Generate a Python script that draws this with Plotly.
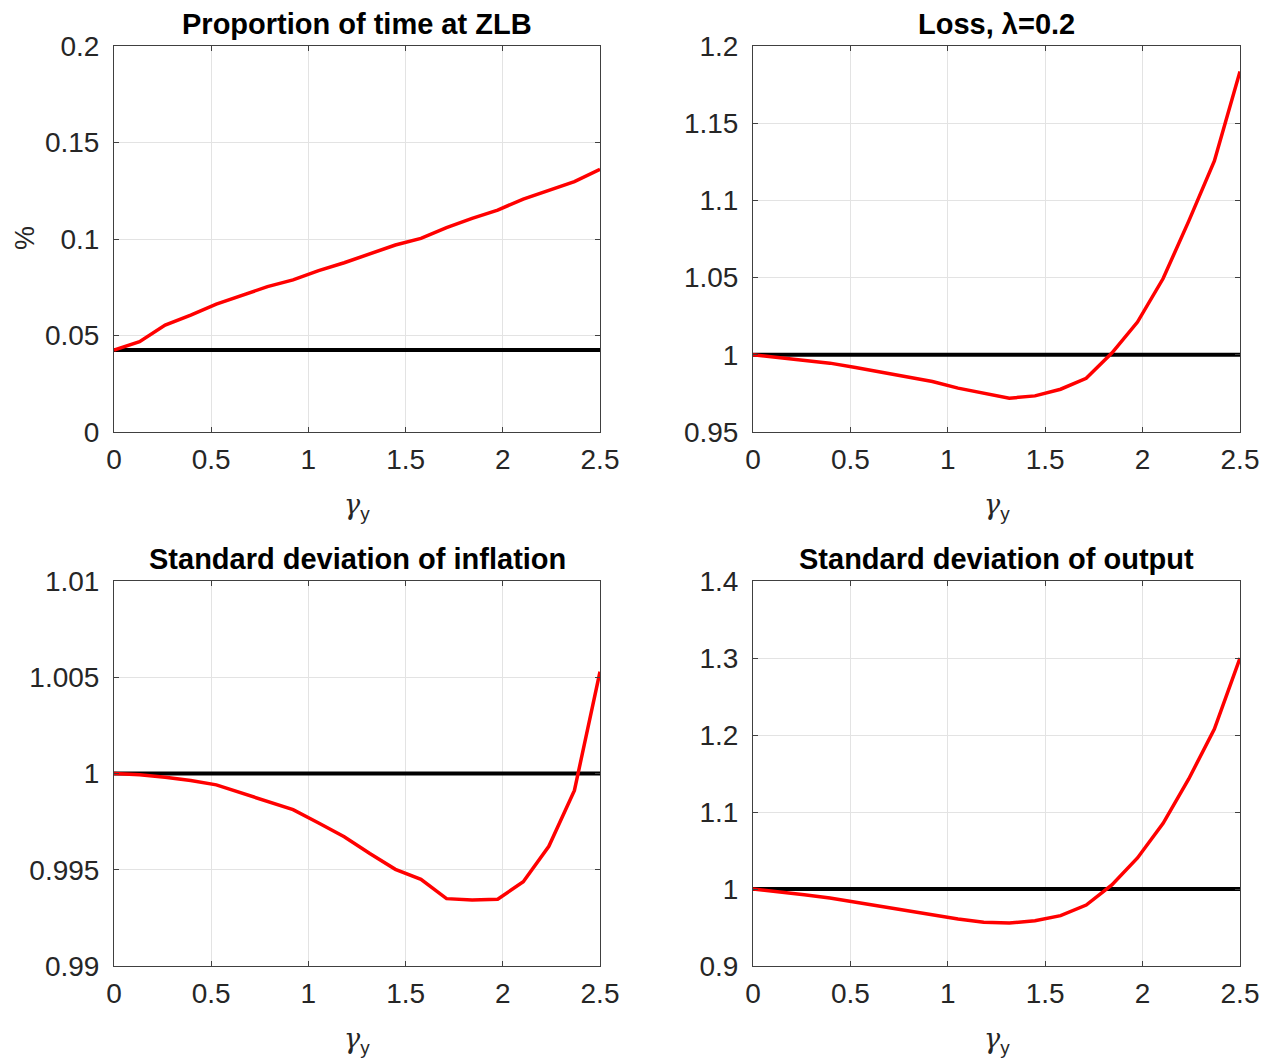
import plotly.graph_objects as go

W, H = 1264, 1063

# ---- data ----
gamma_y = [i * 2.5 / 19 for i in range(20)]

zlb_share = [0.0425, 0.0468, 0.0554, 0.0606, 0.0663, 0.0706, 0.0753, 0.0788, 0.0836, 0.0877,
             0.0922, 0.0969, 0.1003, 0.1059, 0.1107, 0.1150, 0.1207, 0.1250, 0.1297, 0.1361]
zlb_base = 0.0425

loss = [1.0, 0.9983, 0.9963, 0.9946, 0.9918, 0.9887, 0.9859, 0.9827, 0.9784, 0.9751,
        0.9719, 0.9734, 0.9777, 0.9848, 1.0011, 1.0212, 1.0494, 1.0866, 1.1255, 1.1835]
loss_base = 1.0

sd_infl = [1.0, 0.99993, 0.99981, 0.99964, 0.99941, 0.99898, 0.99852, 0.99812, 0.99743, 0.99671,
           0.99584, 0.99502, 0.9945, 0.9935, 0.99343, 0.99347, 0.99438, 0.99622, 0.99912, 1.00529]
infl_base = 1.0

sd_out = [1.0, 0.9965, 0.9926, 0.9883, 0.9827, 0.9775, 0.9719, 0.9662, 0.9610, 0.9567,
          0.9558, 0.9589, 0.9654, 0.9792, 1.0052, 1.0403, 1.0853, 1.1429, 1.2078, 1.3]
out_base = 1.0

titles = ["Proportion of time at ZLB", "Loss, <b>λ</b>=0.2",
          "Standard deviation of inflation", "Standard deviation of output"]

x_ticks = [0, 0.5, 1, 1.5, 2, 2.5]
x_ticklabels = ["0", "0.5", "1", "1.5", "2", "2.5"]

y_ticks = [
    [0, 0.05, 0.1, 0.15, 0.2],
    [0.95, 1, 1.05, 1.1, 1.15, 1.2],
    [0.99, 0.995, 1, 1.005, 1.01],
    [0.9, 1.0, 1.1, 1.2, 1.3, 1.4],
]
y_ticklabels = [
    ["0", "0.05", "0.1", "0.15", "0.2"],
    ["0.95", "1", "1.05", "1.1", "1.15", "1.2"],
    ["0.99", "0.995", "1", "1.005", "1.01"],
    ["0.9", "1", "1.1", "1.2", "1.3", "1.4"],
]
y_ranges = [[0, 0.2], [0.95, 1.2], [0.99, 1.01], [0.9, 1.4]]

series = [zlb_share, loss, sd_infl, sd_out]
bases = [zlb_base, loss_base, infl_base, out_base]

# ---- layout geometry (pixels) ----
panels_px = [  # x0, x1, ytop, ybottom
    (114, 600, 46, 432),
    (753, 1240, 46, 432),
    (114, 600, 581, 966),
    (753, 1240, 581, 966),
]

FONT = "Liberation Sans, Arial, Helvetica, sans-serif"
TXT = "#262626"
AX = "#404040"
GRID = "#e3e3e3"

fig = go.Figure()
annotations = []
layout = {}

for k in range(4):
    x0, x1, yt, yb = panels_px[k]
    xa = "xaxis" if k == 0 else f"xaxis{k+1}"
    ya = "yaxis" if k == 0 else f"yaxis{k+1}"
    xref = "x" if k == 0 else f"x{k+1}"
    yref = "y" if k == 0 else f"y{k+1}"

    fig.add_trace(go.Scatter(x=[gamma_y[0], gamma_y[-1]], y=[bases[k], bases[k]],
                             mode="lines", line=dict(color="black", width=4),
                             xaxis=xref, yaxis=yref, showlegend=False, hoverinfo="skip"))
    fig.add_trace(go.Scatter(x=gamma_y, y=series[k], mode="lines",
                             line=dict(color="#ff0000", width=3.5),
                             xaxis=xref, yaxis=yref, showlegend=False))

    common = dict(showline=True, linecolor=AX, linewidth=1, mirror="ticks",
                  ticks="inside", ticklen=5, tickcolor=AX, tickwidth=1,
                  showgrid=True, gridcolor=GRID, gridwidth=1, zeroline=False,
                  automargin=False,
                  tickfont=dict(family=FONT, size=28, color=TXT))
    layout[xa] = dict(domain=[x0 / W, x1 / W], range=[0, 2.5], anchor=yref,
                      tickvals=x_ticks, ticktext=x_ticklabels,
                      ticklabelstandoff=2, **common)
    layout[ya] = dict(domain=[(H - yb) / H, (H - yt) / H], range=y_ranges[k], anchor=xref,
                      tickvals=y_ticks[k], ticktext=y_ticklabels[k],
                      ticklabelstandoff=8, **common)

    cx = (x0 + x1) / 2
    annotations.append(dict(text=f"<b>{titles[k]}</b>", x=cx / W, y=(H - yt + 4) / H,
                            xref="paper", yref="paper", xanchor="center", yanchor="bottom",
                            showarrow=False,
                            font=dict(family=FONT, size=29, color="black")))
    annotations.append(dict(text='<span style="font-family:DejaVu Serif"><i>γ</i></span><sub>y</sub>',
                            x=cx / W, y=(H - (yb + 74)) / H,
                            xref="paper", yref="paper", xanchor="center", yanchor="middle",
                            showarrow=False,
                            font=dict(family=FONT, size=27, color=TXT)))

annotations.append(dict(text="%", x=25 / W, y=(H - 238) / H, xref="paper", yref="paper",
                        xanchor="center", yanchor="middle", textangle=-90, showarrow=False,
                        font=dict(family=FONT, size=27, color=TXT)))

fig.update_layout(width=W, height=H, margin=dict(l=0, r=0, t=0, b=0, autoexpand=False),
                  paper_bgcolor="white", plot_bgcolor="white",
                  annotations=annotations, **layout)

fig.write_html("out.html", config={"displayModeBar": False},
               post_script="document.body.style.margin='0';document.body.style.padding='0';")
